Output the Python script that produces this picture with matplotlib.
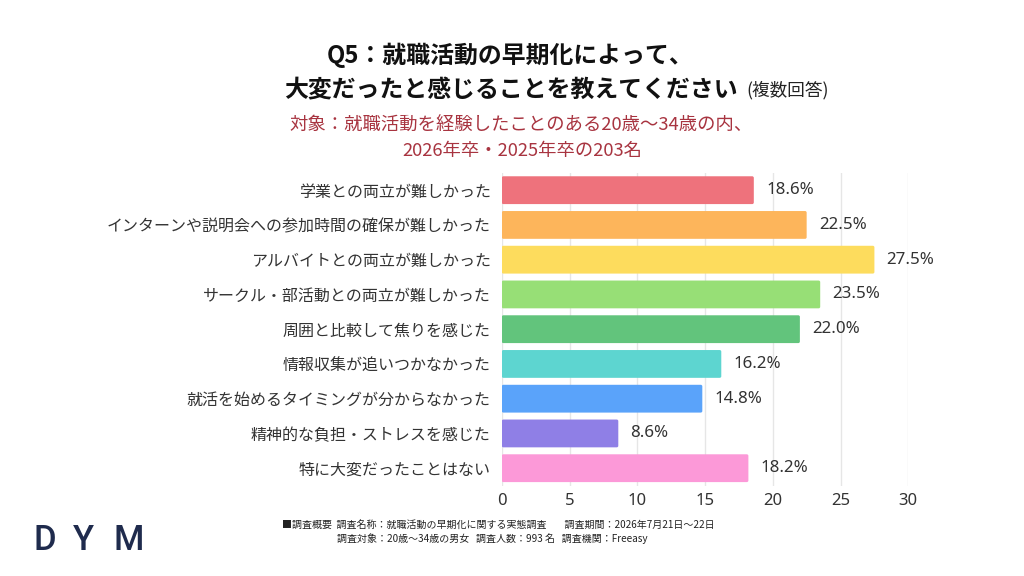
import matplotlib
matplotlib.use("Agg")
import matplotlib.pyplot as plt
from matplotlib.patches import FancyBboxPatch

plt.rcParams['font.family'] = ['Noto Sans CJK JP', 'DejaVu Sans']

categories = [
    "学業との両立が難しかった",
    "インターンや説明会への参加時間の確保が難しかった",
    "アルバイトとの両立が難しかった",
    "サークル・部活動との両立が難しかった",
    "周囲と比較して焦りを感じた",
    "情報収集が追いつかなかった",
    "就活を始めるタイミングが分からなかった",
    "精神的な負担・ストレスを感じた",
    "特に大変だったことはない",
]
values = [18.6, 22.5, 27.5, 23.5, 22.0, 16.2, 14.8, 8.6, 18.2]
colors = ["#EE727C", "#FDB55B", "#FDDC5D", "#97DF76", "#62C47C",
          "#5DD5D0", "#5AA3FA", "#8F7FE6", "#FC99D8"]
xticks = [0, 5, 10, 15, 20, 25, 30]

fig = plt.figure(figsize=(10.24, 5.76), dpi=100)
ax = fig.add_axes([0.490, 0.157, 0.397, 0.543])

ypos = list(range(len(categories)))
bars = ax.barh(ypos, values, height=0.8, color=colors, zorder=3)
for b, c in zip(bars, colors):
    x0, y0 = b.get_x(), b.get_y()
    w, h = b.get_width(), b.get_height()
    b.set_visible(False)
    p = FancyBboxPatch((x0, y0), w, h,
                       boxstyle="round,pad=0,rounding_size=0.12",
                       mutation_aspect=1 / 2.6,
                       facecolor=c, edgecolor='none', zorder=3)
    ax.add_patch(p)

for y, v in zip(ypos, values):
    ax.text(v + 0.9, y, f"{v:.1f}%", va='center', ha='left',
            fontsize=12.2, color='#333333', family=['Noto Sans', 'DejaVu Sans'])

ax.set_xlim(0, 30)
ax.set_ylim(len(categories) - 0.5, -0.5)
ax.set_xticks(xticks)
ax.set_xticklabels([str(t) for t in xticks], fontsize=12, color='#333333',
                   family=['Noto Sans', 'DejaVu Sans'])
ax.set_yticks(ypos)
ax.set_yticklabels(categories, fontsize=11.5, color='#333333')
ax.tick_params(axis='both', length=0)
ax.tick_params(axis='y', pad=8)
ax.tick_params(axis='x', pad=5)
ax.grid(axis='x', color='#E6E6E6', linewidth=1, zorder=0)
for s in ax.spines.values():
    s.set_visible(False)

# Titles
fig.text(327 / 1024, 1 - 55 / 576, "Q5：就職活動の早期化によって、",
         fontsize=17.2, fontweight='bold', color='#111111', va='center', ha='left')
fig.text(284 / 1024, 1 - 90 / 576, "大変だったと感じることを教えてください",
         fontsize=17.2, fontweight='bold', color='#111111', va='center', ha='left')
fig.text(746 / 1024, 1 - 90 / 576, "(複数回答)",
         fontsize=12.7, color='#222222', va='center', ha='left')
fig.text(289 / 1024, 1 - 126 / 576, "対象：就職活動を経験したことのある20歳～34歳の内、",
         fontsize=13.2, color='#A83440', va='center', ha='left')
fig.text(402 / 1024, 1 - 151 / 576, "2026年卒・2025年卒の203名",
         fontsize=13.2, color='#A83440', va='center', ha='left')

# Footer
fig.text(282 / 1024, 1 - 525 / 576,
         "■調査概要  調査名称：就職活動の早期化に関する実態調査        調査期間：2026年7月21日～22日",
         fontsize=7.2, color='#222222', va='center', ha='left')
fig.text(337 / 1024, 1 - 539 / 576,
         "調査対象：20歳～34歳の男女   調査人数：993 名   調査機関：Freeasy",
         fontsize=7.2, color='#222222', va='center', ha='left')

logo_letters = ["D", "Y", "M"]
logo_x = [33, 73, 113]
for ch, lx in zip(logo_letters, logo_x):
    fig.text(lx / 1024, 1 - 540 / 576, ch, fontsize=25, fontweight='medium',
             color='#1F2B4D', va='center', ha='left',
             family=['Roboto', 'DejaVu Sans'])

fig.savefig("out.png", dpi=100, facecolor='white')
